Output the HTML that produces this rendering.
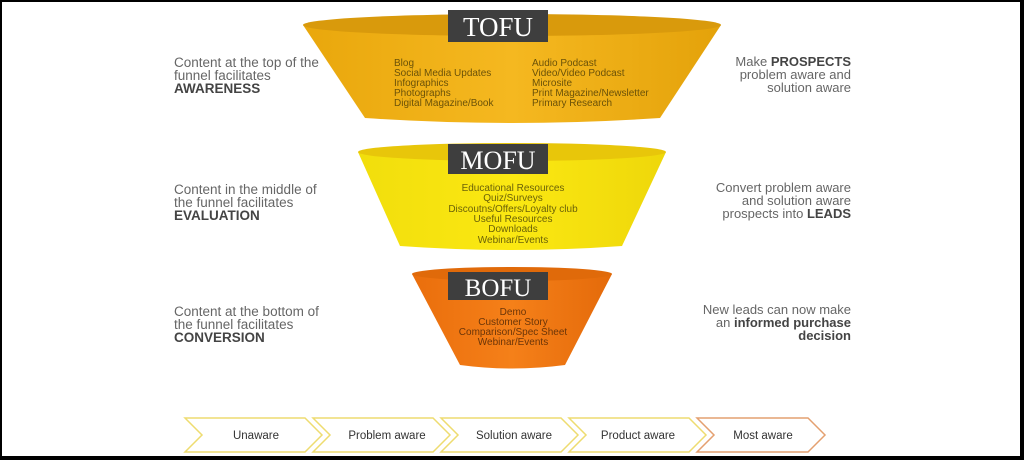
<!DOCTYPE html>
<html><head><style>
html,body{margin:0;padding:0;background:#000;}
.wrap{position:absolute;left:2px;top:2px;width:1018px;height:454px;background:#fff;overflow:hidden;}
svg{position:absolute;left:-2px;top:-2px;}
text{font-family:"Liberation Sans",sans-serif;}
</style></head><body>
<div class="wrap">
<svg width="1024" height="460" viewBox="0 0 1024 460">
<defs>
<linearGradient id="gt" x1="0" x2="1"><stop offset="0" stop-color="#e9a70c"/><stop offset="0.5" stop-color="#f5b820"/><stop offset="1" stop-color="#e4a20a"/></linearGradient>
<linearGradient id="gm" x1="0" x2="1"><stop offset="0" stop-color="#f1de0c"/><stop offset="0.5" stop-color="#fbe812"/><stop offset="1" stop-color="#eed70a"/></linearGradient>
<linearGradient id="gb" x1="0" x2="1"><stop offset="0" stop-color="#ea6e0c"/><stop offset="0.5" stop-color="#f58019"/><stop offset="1" stop-color="#e46a0a"/></linearGradient>
</defs>
<!-- TOFU -->
<path d="M303,25 L365,118 Q512,128 660,118 L721,25 Z" fill="url(#gt)"/>
<ellipse cx="512" cy="25" rx="209" ry="11" fill="#d99a0c"/>
<rect x="448" y="10" width="100" height="32" fill="#3e3e3e"/>
<text x="498" y="36" text-anchor="middle" style="font-family:'Liberation Serif',serif" font-size="27" fill="#fff">TOFU</text>
<g font-size="10" fill="#6b5208">
<text x="394" y="66">Blog</text><text x="394" y="76">Social Media Updates</text><text x="394" y="86">Infographics</text><text x="394" y="96">Photographs</text><text x="394" y="106">Digital Magazine/Book</text>
<text x="532" y="66">Audio Podcast</text><text x="532" y="76">Video/Video Podcast</text><text x="532" y="86">Microsite</text><text x="532" y="96">Print Magazine/Newsletter</text><text x="532" y="106">Primary Research</text>
</g>
<!-- MOFU -->
<path d="M358,152 L400,246 Q512,254 622,246 L666,152 Z" fill="url(#gm)"/>
<ellipse cx="512" cy="152" rx="154" ry="9" fill="#e8c60a"/>
<rect x="448" y="144" width="100" height="30" fill="#3e3e3e"/>
<text x="498" y="169" text-anchor="middle" style="font-family:'Liberation Serif',serif" font-size="26" fill="#fff">MOFU</text>
<g font-size="10" fill="#6b6208" text-anchor="middle">
<text x="513" y="191">Educational Resources</text><text x="513" y="201">Quiz/Surveys</text><text x="513" y="212">Discoutns/Offers/Loyalty club</text><text x="513" y="222">Useful Resources</text><text x="513" y="232">Downloads</text><text x="513" y="243">Webinar/Events</text>
</g>
<!-- BOFU -->
<path d="M412,274 L460,365 Q512,372 565,365 L612,274 Z" fill="url(#gb)"/>
<ellipse cx="512" cy="274" rx="100" ry="7" fill="#e06a0a"/>
<rect x="448" y="272" width="100" height="28" fill="#3e3e3e"/>
<text x="498" y="296" text-anchor="middle" style="font-family:'Liberation Serif',serif" font-size="25" fill="#fff">BOFU</text>
<g font-size="10" fill="#6b3508" text-anchor="middle">
<text x="513" y="315">Demo</text><text x="513" y="325">Customer Story</text><text x="513" y="335">Comparison/Spec Sheet</text><text x="513" y="345">Webinar/Events</text>
</g>
<!-- side text -->
<g font-size="13.5" fill="#666">
<text x="174" y="67">Content at the top of the</text><text x="174" y="80">funnel facilitates</text><text x="174" y="93" font-weight="bold" fill="#444">AWARENESS</text>
<text x="174" y="194">Content in the middle of</text><text x="174" y="207">the funnel facilitates</text><text x="174" y="220" font-weight="bold" fill="#444">EVALUATION</text>
<text x="174" y="316">Content at the bottom of</text><text x="174" y="329">the funnel facilitates</text><text x="174" y="342" font-weight="bold" fill="#444">CONVERSION</text>
</g>
<g font-size="13" fill="#666" text-anchor="end">
<text x="851" y="66">Make <tspan font-weight="bold" fill="#444">PROSPECTS</tspan></text><text x="851" y="79">problem aware and</text><text x="851" y="92">solution aware</text>
<text x="851" y="192">Convert problem aware</text><text x="851" y="205">and solution aware</text><text x="851" y="218">prospects into <tspan font-weight="bold" fill="#444">LEADS</tspan></text>
<text x="851" y="314">New leads can now make</text><text x="851" y="327">an <tspan font-weight="bold" fill="#444">informed purchase</tspan></text><text x="851" y="340" font-weight="bold" fill="#444">decision</text>
</g>
<!-- chevrons -->
<g fill="none" stroke-width="1.5">
<path d="M185,418 L305,418 L322,435 L305,452 L185,452 L202,435 Z" stroke="#eedc70"/>
<path d="M313,418 L433,418 L450,435 L433,452 L313,452 L330,435 Z" stroke="#eedc70"/>
<path d="M441,418 L561,418 L578,435 L561,452 L441,452 L458,435 Z" stroke="#eedc70"/>
<path d="M569,418 L689,418 L706,435 L689,452 L569,452 L586,435 Z" stroke="#eedc70"/>
<path d="M697,418 L808,418 L825,435 L808,452 L697,452 L714,435 Z" stroke="#e4a070"/>
</g>
<g font-size="11.5" fill="#333" text-anchor="middle">
<text x="256" y="439">Unaware</text><text x="387" y="439">Problem aware</text><text x="514" y="439">Solution aware</text><text x="638" y="439">Product aware</text><text x="763" y="439">Most aware</text>
</g>
</svg>
</div>
</body></html>
